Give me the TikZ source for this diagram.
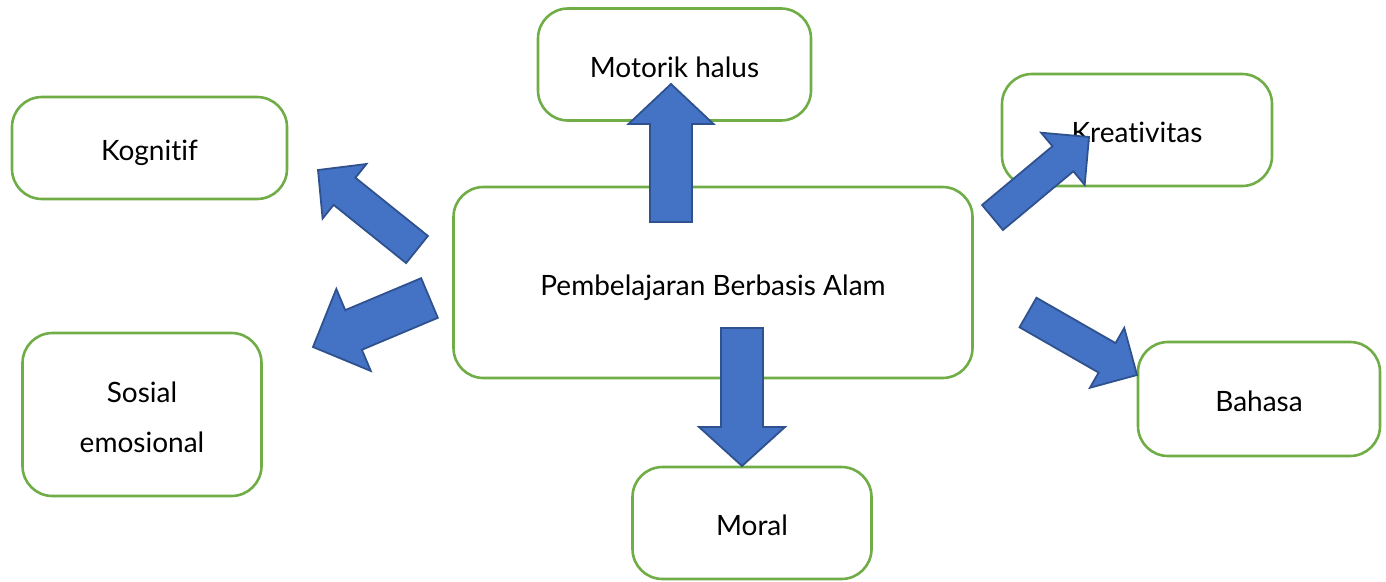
\documentclass[tikz,border=0pt]{standalone}
\usepackage{fontspec}
\setmainfont{Lato}[Ligatures=NoCommon]
\usepackage{tikz}
\usetikzlibrary{calc}

\definecolor{hijau}{HTML}{70AD47}
\definecolor{biru}{HTML}{4472C4}
\definecolor{birutua}{HTML}{2F528F}

% block arrow: base, tip, shaft half width, head half width, head length
\newcommand{\blokpanah}[5]{%
  \coordinate (hd) at ($(#2)!#5!(#1)$);
  \draw[panah] ($(#1)!#3!90:(#2)$) -- ($(hd)!#3!90:(#2)$) -- ($(hd)!#4!90:(#2)$) -- (#2)
    -- ($(hd)!#4!-90:(#2)$) -- ($(hd)!#3!-90:(#2)$) -- ($(#1)!#3!-90:(#2)$) -- cycle;}

\begin{document}
\begin{tikzpicture}
[
x=1pt, y=-1pt,
kotak/.style={rectangle, rounded corners=30pt, draw=hijau, line width=2.6pt, fill=white, align=center, font=\fontsize{28}{50}\selectfont, inner sep=0pt, text height=27pt, text depth=2pt},
panah/.style={fill=biru, draw=birutua, line width=1.8pt, line join=miter}
]
\useasboundingbox (0,0) rectangle (1386,581);

%Nodes
\node[kotak, minimum width=519pt, minimum height=191pt] (pusat)       at (713,282.5)  {Pembelajaran Berbasis Alam};
\node[kotak, minimum width=273pt, minimum height=112pt] (motorik)     at (674.5,64.5) {Motorik halus};
\node[kotak, minimum width=275pt, minimum height=102pt] (kognitif)    at (149.5,148)  {Kognitif};
\node[kotak, minimum width=270pt, minimum height=112pt] (kreativitas) at (1137,130)   {Kreativitas};
\node[kotak, minimum width=239pt, minimum height=163pt, text height=77pt, text depth=2pt] (sosial) at (142,414.5) {Sosial\\emosional};
\node[kotak, minimum width=242pt, minimum height=114pt] (bahasa)      at (1259,399)   {Bahasa};
\node[kotak, minimum width=239pt, minimum height=112pt] (moral)       at (752,523)    {Moral};

%Arrow ends
\coordinate (mot-base) at (671,222);    \coordinate (mot-tip) at (671,84);
\coordinate (mor-base) at (742,328);    \coordinate (mor-tip) at (742,466);
\coordinate (kog-base) at (417,249.5);  \coordinate (kog-tip) at (318,170);
\coordinate (sos-base) at (429.5,298);  \coordinate (sos-tip) at (313,347);
\coordinate (kre-base) at (992.5,217.5);\coordinate (kre-tip) at (1089,137);
\coordinate (bah-base) at (1028,312.5); \coordinate (bah-tip) at (1137,375);

%Arrows
\blokpanah{mot-base}{mot-tip}{21pt}{42.5pt}{40pt}
\blokpanah{mor-base}{mor-tip}{21pt}{43pt}{39pt}
\blokpanah{kog-base}{kog-tip}{17.4pt}{35pt}{34pt}
\blokpanah{sos-base}{sos-tip}{21.5pt}{44.5pt}{44pt}
\blokpanah{kre-base}{kre-tip}{16.3pt}{34pt}{34pt}
\blokpanah{bah-base}{bah-tip}{17pt}{34.5pt}{34.5pt}
\end{tikzpicture}
\end{document}
